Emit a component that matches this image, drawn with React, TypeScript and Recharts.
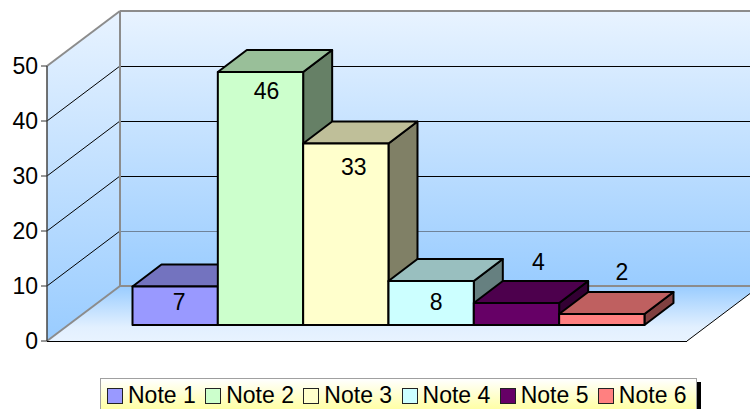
import React from 'react';
import { BarChart, Bar, XAxis, YAxis, Legend, LabelList, ReferenceArea } from 'recharts';

const categories = ['Notes'];
const noteNames = ['Note 1', 'Note 2', 'Note 3', 'Note 4', 'Note 5', 'Note 6'];
const noteValues = [7, 46, 33, 8, 4, 2];
const noteColors = ['#9999ff', '#ccffcc', '#ffffcc', '#ccffff', '#660066', '#ff8080'];
const yTicks = [0, 10, 20, 30, 40, 50];

const data = categories.map(category => {
  const row: Record<string, string | number> = { category };
  noteNames.forEach((name, i) => { row[name] = noteValues[i]; });
  return row;
});

const FONT = '"Liberation Sans", Arial, sans-serif';
const FONT_SIZE = 23;

// 3d look: the walls go back by WALL, bars stand a bit in from the front and have their own depth
const WALL = { dx: 73, dy: -55 };
const BAR_SHIFT = { dx: 21.5, dy: -16 };
const BAR_DEPTH = { dx: 29, dy: -22 };

// data labels were dragged around by hand in the original
const LABEL_SHIFT = [[4, 15], [6, 19], [8, 23], [5, 21], [22, -41], [20, -42]];

const shade = (hex: string, k: number) => {
  const n = parseInt(hex.slice(1), 16);
  const c = [(n >> 16) & 255, (n >> 8) & 255, n & 255].map(v => Math.round(v * k));
  return `rgb(${c[0]},${c[1]},${c[2]})`;
};

const pts = (list: number[][]) => list.map(p => p.join(',')).join(' ');

const Walls = ({ x, y, width, height }: any) => {
  const bottom = y + height;
  const right = x + width;
  const { dx, dy } = WALL;
  return (
    <g>
      <defs>
        <linearGradient id="wallFill" x1="0" y1="0" x2="0" y2="1">
          <stop offset="0" stopColor="#e8f3ff" />
          <stop offset="1" stopColor="#99ccff" />
        </linearGradient>
        <linearGradient id="floorFill" x1="0" y1="0" x2="0" y2="1">
          <stop offset="0" stopColor="#99ccff" />
          <stop offset="0.75" stopColor="#e2f0ff" />
          <stop offset="1" stopColor="#e8f3ff" />
        </linearGradient>
      </defs>
      <rect x={x + dx} y={y + dy} width={width} height={height} fill="url(#wallFill)" />
      <polygon points={pts([[x, y], [x + dx, y + dy], [x + dx, bottom + dy], [x, bottom]])} fill="url(#wallFill)" />
      <polygon points={pts([[x, bottom], [right, bottom], [right + dx, bottom + dy], [x + dx, bottom + dy]])} fill="url(#floorFill)" />
      {yTicks.filter(t => t > 0 && t < 50).map(t => {
        const ty = bottom - (t / 50) * height;
        return (
          <g key={t}>
            <line x1={x} y1={ty} x2={x + dx} y2={ty + dy} stroke="#000" strokeWidth={1} />
            <line x1={x + dx} y1={ty + dy} x2={right + dx} y2={ty + dy} stroke={t === 10 ? '#6f8399' : '#000'} strokeWidth={1} shapeRendering="crispEdges" />
          </g>
        );
      })}
      <line x1={x + dx} y1={y + dy} x2={right + dx} y2={y + dy} stroke="#8c8c8c" strokeWidth={2} />
      <line x1={x + dx} y1={y + dy} x2={x + dx} y2={bottom + dy} stroke="#8c8c8c" strokeWidth={2} />
      <line x1={x} y1={y} x2={x + dx} y2={y + dy} stroke="#8c8c8c" strokeWidth={2} />
      <line x1={x} y1={bottom} x2={x + dx} y2={bottom + dy} stroke="#8c8c8c" strokeWidth={2} />
      <line x1={x + dx} y1={bottom + dy} x2={right + dx} y2={bottom + dy} stroke="#8c8c8c" strokeWidth={2} />
      <line x1={x} y1={bottom} x2={right} y2={bottom} stroke="#000" strokeWidth={1} shapeRendering="crispEdges" />
      <line x1={right} y1={bottom} x2={right + dx} y2={bottom + dy} stroke="#000" strokeWidth={1} />
    </g>
  );
};

const Box3D = ({ x, y, width, height, fill }: any) => {
  const left = x + BAR_SHIFT.dx;
  const top = y + BAR_SHIFT.dy;
  const right = left + width;
  const bottom = top + height;
  const { dx, dy } = BAR_DEPTH;
  const line = { stroke: '#000', strokeWidth: 2, strokeLinejoin: 'round' as const };
  return (
    <g>
      <polygon points={pts([[right, top], [right + dx, top + dy], [right + dx, bottom + dy], [right, bottom]])} fill={shade(fill, 0.5)} {...line} />
      <polygon points={pts([[left, top], [left + dx, top + dy], [right + dx, top + dy], [right, top]])} fill={shade(fill, 0.75)} {...line} />
      <rect x={left} y={top} width={width} height={height} fill={fill} {...line} />
    </g>
  );
};

const noteLabel = (i: number) => ({ x, y, width, value }: any) => (
  <text
    x={x + width / 2 + BAR_SHIFT.dx + LABEL_SHIFT[i][0]}
    y={y + BAR_SHIFT.dy + LABEL_SHIFT[i][1]}
    textAnchor="middle"
    dominantBaseline="central"
    fontFamily={FONT}
    fontSize={FONT_SIZE}
    fill="#000"
  >
    {value}
  </text>
);

const LegendBox = ({ payload }: any) => (
  <div
    style={{
      boxSizing: 'border-box',
      width: 597,
      height: 36,
      paddingLeft: 6,
      paddingTop: 4,
      display: 'flex',
      border: '1px solid #a0a0a0',
      background: 'linear-gradient(#ffffff, #ffff99)',
      boxShadow: '4px 4px 0 #000',
      fontFamily: FONT,
      fontSize: FONT_SIZE,
      lineHeight: '25px',
      color: '#000',
    }}
  >
    {(payload || []).map((entry: any) => (
      <div key={entry.value} style={{ width: 98.9, height: 25, display: 'flex', alignItems: 'center', whiteSpace: 'nowrap' }}>
        <span
          style={{
            display: 'inline-block',
            flexShrink: 0,
            boxSizing: 'border-box',
            width: 16,
            height: 16,
            marginRight: 5,
            background: entry.color,
            border: '1.5px solid #222',
          }}
        />
        {entry.value}
      </div>
    ))}
  </div>
);

const App: React.FC = () => (
  <div style={{ position: 'absolute', left: 0, top: 0, width: 750, height: 409, overflow: 'hidden', background: '#fff' }}>
    <BarChart
      width={750}
      height={409}
      data={data}
      margin={{ top: 66, right: 63, bottom: 68, left: 0 }}
      barGap={0}
      barSize={85.33}
    >
      <XAxis dataKey="category" hide />
      <YAxis
        width={47}
        domain={[0, 50]}
        ticks={yTicks}
        interval={0}
        tickSize={6}
        tickMargin={3}
        axisLine={{ stroke: '#444', strokeWidth: 1.5 }}
        tickLine={{ stroke: '#333', strokeWidth: 1 }}
        tick={{ fill: '#000', fontSize: FONT_SIZE, fontFamily: FONT }}
      />
      <ReferenceArea y1={0} y2={50} shape={Walls} ifOverflow="visible" />
      <Legend
        content={LegendBox}
        layout="horizontal"
        verticalAlign="middle"
        wrapperStyle={{ left: 100, top: 378, width: 597 }}
      />
      {noteNames.map((name, i) => (
        <Bar key={name} dataKey={name} name={name} fill={noteColors[i]} shape={Box3D} isAnimationActive={false}>
          <LabelList dataKey={name} content={noteLabel(i)} />
        </Bar>
      ))}
    </BarChart>
  </div>
);

export default App;
